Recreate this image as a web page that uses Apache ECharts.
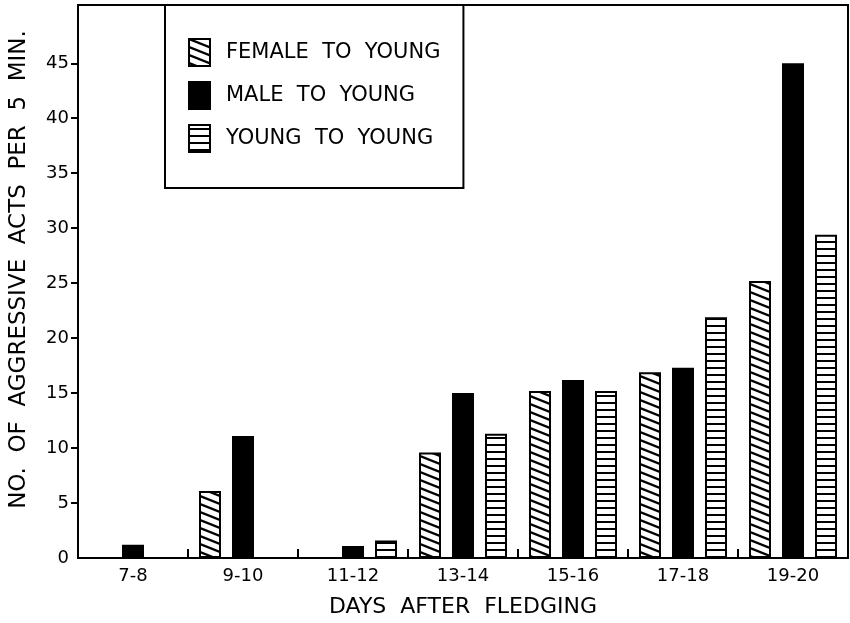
<!DOCTYPE html>
<html>
<head>
<meta charset="utf-8">
<script src="https://cdn.jsdelivr.net/npm/echarts@6/dist/echarts.min.js"></script>
<style>
html,body{margin:0;padding:0;background:#fff;}
#chart{width:850px;height:623px;}
</style>
</head>
<body>
<div id="chart"></div>
<script>
// ---- data ----
const categories = ['7-8', '9-10', '11-12', '13-14', '15-16', '17-18', '19-20'];
const femaleToYoung = [null, 6.1, null, 9.6, 15.2, 16.9, 25.2];
const maleToYoung   = [1.2, 11.1, 1.1, 15.0, 16.2, 17.3, 45.0];
const youngToYoung  = [null, null, 1.6, 11.3, 15.2, 21.9, 29.4];
const yTickValues = [5, 10, 15, 20, 25, 30, 35, 40, 45];
const yLabelValues = [0, 5, 10, 15, 20, 25, 30, 35, 40, 45];
const seriesNames = ['FEMALE  TO  YOUNG', 'MALE  TO  YOUNG', 'YOUNG  TO  YOUNG'];

// ---- hatch patterns ----
function diagPattern() {
  const W = 20, H = 8;
  const c = document.createElement('canvas');
  c.width = W; c.height = H;
  const g = c.getContext('2d');
  g.fillStyle = '#fff'; g.fillRect(0, 0, W, H);
  g.strokeStyle = '#000'; g.lineWidth = 2.3;
  for (let k = -1; k <= 1; k++) {
    g.beginPath();
    g.moveTo(-2, k * H - 2 * H / W);
    g.lineTo(W + 2, (k + 1) * H + 2 * H / W);
    g.stroke();
  }
  return c;
}
function horizPattern() {
  const W = 4, H = 7;
  const c = document.createElement('canvas');
  c.width = W; c.height = H;
  const g = c.getContext('2d');
  g.fillStyle = '#fff'; g.fillRect(0, 0, W, H);
  g.fillStyle = '#000'; g.fillRect(0, 3, W, 2);
  return c;
}

const FONT = 'DejaVu Sans';
const chart = echarts.init(document.getElementById('chart'), null, {renderer: 'canvas'});

const barCommon = {
  type: 'bar',
  barWidth: 22,
  barGap: '50%',
  animation: false
};

chart.setOption({
  backgroundColor: '#fff',
  animation: false,
  grid: {
    left: 75, right: 2, top: 5, bottom: 61,
    show: true, borderColor: '#000', borderWidth: 2, backgroundColor: 'transparent'
  },
  legend: {
    orient: 'vertical',
    left: 165, top: 5,
    padding: [33, 23, 35, 23],
    itemWidth: 21, itemHeight: 27, itemGap: 14,
    icon: 'rect',
    borderColor: '#000', borderWidth: 2,
    backgroundColor: '#fff',
    textStyle: {fontFamily: FONT, fontSize: 21, color: '#000', padding: [0, 0, 0, 11]},
    data: seriesNames
  },
  xAxis: {
    type: 'category',
    data: categories,
    name: 'DAYS  AFTER  FLEDGING',
    nameLocation: 'middle',
    nameGap: 38,
    nameTextStyle: {fontFamily: FONT, fontSize: 22, color: '#000'},
    axisLine: {lineStyle: {color: '#000', width: 2}},
    axisTick: {show: true, inside: true, length: 9, interval: 0, lineStyle: {color: '#000', width: 2}},
    axisLabel: {fontFamily: FONT, fontSize: 18, color: '#000', margin: 9, interval: 0},
    splitLine: {show: false}
  },
  yAxis: {
    type: 'value',
    min: 0, max: 50.3, interval: 5,
    name: 'NO.  OF  AGGRESSIVE  ACTS  PER  5  MIN.',
    nameLocation: 'middle',
    nameGap: 47,
    nameRotate: 90,
    nameTextStyle: {fontFamily: FONT, fontSize: 23, color: '#000', padding: [0, 0, 0, 24]},
    axisLine: {show: true, lineStyle: {color: '#000', width: 2}},
    axisTick: {show: true, inside: false, length: 7, customValues: yTickValues, lineStyle: {color: '#000', width: 2}},
    axisLabel: {fontFamily: FONT, fontSize: 18, color: '#000', margin: 9, customValues: yLabelValues},
    splitLine: {show: false}
  },
  series: [
    Object.assign({}, barCommon, {
      name: seriesNames[0],
      data: femaleToYoung,
      itemStyle: {color: {image: diagPattern(), repeat: 'repeat'}, borderColor: '#000', borderWidth: 2}
    }),
    Object.assign({}, barCommon, {
      name: seriesNames[1],
      data: maleToYoung,
      itemStyle: {color: '#000', borderColor: '#000', borderWidth: 2}
    }),
    Object.assign({}, barCommon, {
      name: seriesNames[2],
      data: youngToYoung,
      itemStyle: {color: {image: horizPattern(), repeat: 'repeat'}, borderColor: '#000', borderWidth: 2}
    })
  ]
});
</script>
</body>
</html>
